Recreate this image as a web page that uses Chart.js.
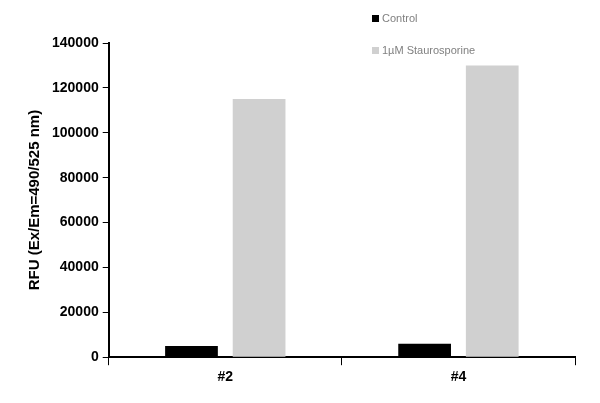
<!DOCTYPE html>
<html>
<head>
<meta charset="utf-8">
<script src="https://cdn.jsdelivr.net/npm/chart.js@4"></script>
<style>
  body { margin: 0; background: #fff; }
  #wrap { position: relative; width: 600px; height: 403px; }
  .leg { position: absolute; font: 11px "Liberation Sans", Arial, sans-serif; color: #808080; }
  .leg span { display: inline-block; width: 7px; height: 7px; margin-right: 3px; }
</style>
</head>
<body>
<div id="wrap">
  <canvas id="c" width="600" height="403"></canvas>
  <div class="leg" style="left:372px;top:12px"><span style="background:#000"></span>Control</div>
  <div class="leg" style="left:372px;top:44px"><span style="background:#d0d0d0"></span>1µM Staurosporine</div>
</div>
<script>
const categories = ["#2", "#4"];
const controlValues = [5000, 6000];
const stauroValues = [115000, 130000];
const seriesNames = ["Control", "1µM Staurosporine"];

const font = { family: "'Liberation Sans', Arial, sans-serif", size: 14, weight: "bold" };

new Chart(document.getElementById("c"), {
  type: "bar",
  data: {
    labels: categories,
    datasets: [
      { label: seriesNames[0], data: controlValues, backgroundColor: "#000000" },
      { label: seriesNames[1], data: stauroValues, backgroundColor: "#d0d0d0" },
    ],
  },
  options: {
    responsive: false,
    animation: false,
    categoryPercentage: 0.58,
    barPercentage: 0.78,
    layout: { padding: { top: 43, right: 25, left: 22, bottom: 13 } },
    plugins: { legend: { display: false }, tooltip: { enabled: false } },
    scales: {
      x: {
        grid: { display: true, drawOnChartArea: false, offset: true, color: "#000", tickLength: 8 },
        border: { color: "#000", width: 2 },
        ticks: { color: "#000", font: font, padding: 4 },
      },
      y: {
        min: 0,
        max: 140000,
        ticks: { stepSize: 20000, color: "#000", font: font, padding: 4, callback: (v) => String(v) },
        grid: { drawOnChartArea: false, color: "#000", tickLength: 6 },
        border: { color: "#000", width: 2 },
        title: { display: true, text: "RFU (Ex/Em=490/525 nm)", color: "#000", font: { ...font, size: 15 } },
      },
    },
  },
});
</script>
</body>
</html>
